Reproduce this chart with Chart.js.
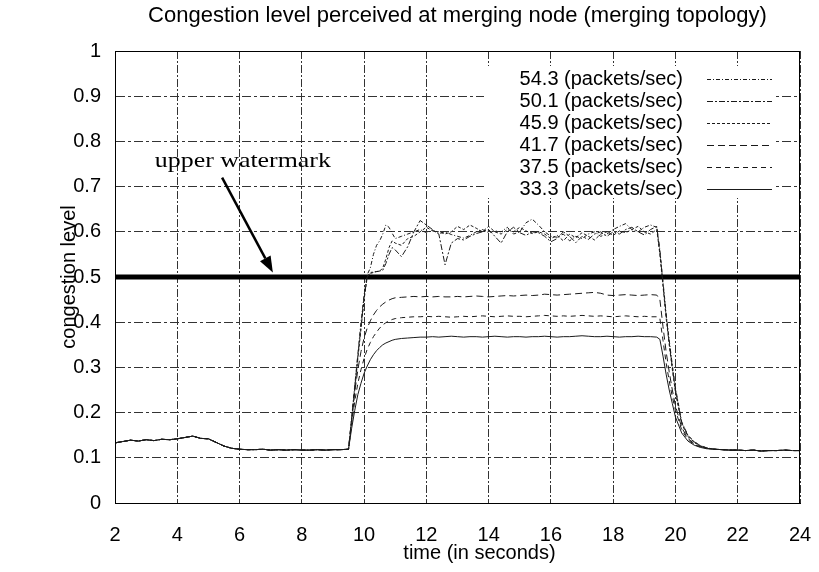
<!DOCTYPE html>
<html>
<head>
<meta charset="utf-8">
<script src="https://cdn.jsdelivr.net/npm/chart.js@4.4.1/dist/chart.umd.min.js"></script>
<style>
  html, body { margin: 0; padding: 0; background: #fff; }
  #wrap { width: 819px; height: 572px; }
</style>
</head>
<body>
<div id="wrap"><canvas id="chart" width="819" height="572"></canvas></div>
<script>
// ── Data ───────────────────────────────────────────────────
// idle period, identical for every rate
const BASE_T = [2, 2.25, 2.5, 2.75, 3, 3.25, 3.5, 3.75, 4, 4.25, 4.5, 4.75, 5, 5.25, 5.5, 5.75,
                6, 6.25, 6.5, 6.75, 7, 7.25, 7.5, 7.75, 8, 8.25, 8.5, 8.75, 9, 9.25, 9.5];
const BASE_V = [0.133, 0.136, 0.139, 0.137, 0.140, 0.138, 0.141, 0.140, 0.142, 0.145, 0.148, 0.143, 0.142, 0.134, 0.126, 0.121,
                0.119, 0.118, 0.118, 0.119, 0.117, 0.118, 0.117, 0.118, 0.117, 0.117, 0.118, 0.117, 0.118, 0.118, 0.119];

// active period (rise, plateau, fall)
const RUN_T = [
  9.6, 9.7, 9.8, 9.9, 10.0, 10.1, 10.2, 10.3, 10.4, 10.5, 10.6, 10.7, 10.8, 10.9,
  11.0, 11.2, 11.4, 11.6, 11.8, 12.0, 12.2, 12.4, 12.6, 12.8,
  13.0, 13.2, 13.4, 13.6, 13.8, 14.0, 14.2, 14.4, 14.6, 14.8,
  15.0, 15.2, 15.4, 15.6, 15.8, 16.0, 16.2, 16.4, 16.6, 16.8,
  17.0, 17.2, 17.4, 17.6, 17.8, 18.0, 18.2, 18.4, 18.6, 18.8,
  19.0, 19.2, 19.4,
  19.5, 19.6, 19.7, 19.8, 19.9, 20.0, 20.2, 20.4, 20.6, 20.8, 21.0
];

const R543 = [
  0.19, 0.26, 0.33, 0.40, 0.46, 0.505, 0.52, 0.55, 0.57, 0.58, 0.595, 0.615, 0.61, 0.597,
  0.585, 0.59, 0.595, 0.6, 0.605, 0.598, 0.603, 0.596, 0.6, 0.594,
  0.59, 0.586, 0.592, 0.6, 0.605, 0.598, 0.602, 0.6, 0.61, 0.595,
  0.6, 0.62, 0.628, 0.615, 0.6, 0.59, 0.588, 0.595, 0.58, 0.59,
  0.585, 0.595, 0.6, 0.59, 0.595, 0.605, 0.612, 0.618, 0.605, 0.6,
  0.61, 0.615, 0.61,
  0.56, 0.49, 0.42, 0.36, 0.305, 0.255, 0.18, 0.15, 0.136, 0.127, 0.122
];
const R501 = [
  0.185, 0.255, 0.325, 0.39, 0.455, 0.5, 0.51, 0.511, 0.512, 0.513, 0.515, 0.53, 0.55, 0.565,
  0.56, 0.545, 0.567, 0.6, 0.625, 0.615, 0.605, 0.595, 0.527, 0.575,
  0.585, 0.582, 0.59, 0.596, 0.6, 0.605, 0.59, 0.575, 0.6, 0.61,
  0.598, 0.592, 0.6, 0.598, 0.59, 0.578, 0.585, 0.6, 0.59, 0.576,
  0.59, 0.583, 0.595, 0.6, 0.59, 0.6, 0.595, 0.605, 0.61, 0.6,
  0.593, 0.605, 0.612,
  0.555, 0.485, 0.415, 0.355, 0.3, 0.25, 0.178, 0.149, 0.135, 0.127, 0.122
];
const R459 = [
  0.18, 0.25, 0.32, 0.385, 0.45, 0.5, 0.508, 0.51, 0.512, 0.513, 0.52, 0.54, 0.565, 0.58,
  0.575, 0.57, 0.585, 0.59, 0.6, 0.61, 0.602, 0.6, 0.595, 0.6,
  0.612, 0.605, 0.615, 0.608, 0.6, 0.612, 0.6, 0.595, 0.605, 0.6,
  0.61, 0.602, 0.596, 0.6, 0.595, 0.585, 0.592, 0.58, 0.595, 0.587,
  0.598, 0.59, 0.582, 0.595, 0.6, 0.592, 0.602, 0.598, 0.605, 0.612,
  0.6, 0.595, 0.605,
  0.55, 0.48, 0.41, 0.35, 0.295, 0.245, 0.175, 0.147, 0.134, 0.126, 0.121
];
const R417 = [
  0.185, 0.245, 0.295, 0.335, 0.365, 0.387, 0.403, 0.416, 0.426, 0.434, 0.44, 0.445, 0.449, 0.452,
  0.454, 0.455, 0.456, 0.457, 0.456, 0.457, 0.456, 0.457, 0.456, 0.456,
  0.457, 0.456, 0.457, 0.458, 0.457, 0.456, 0.457, 0.458, 0.459, 0.458,
  0.459, 0.46, 0.459, 0.46, 0.462, 0.461, 0.46, 0.461, 0.462, 0.463,
  0.464, 0.465, 0.466, 0.464, 0.46, 0.459, 0.46, 0.461, 0.46, 0.459,
  0.46, 0.461, 0.46,
  0.45, 0.39, 0.335, 0.29, 0.25, 0.215, 0.167, 0.143, 0.131, 0.125, 0.121
];
const R375 = [
  0.175, 0.225, 0.265, 0.295, 0.32, 0.34, 0.355, 0.368, 0.378, 0.387, 0.394, 0.399, 0.403, 0.406,
  0.408, 0.41, 0.411, 0.412, 0.412, 0.413, 0.412, 0.413, 0.412, 0.411,
  0.412, 0.413, 0.412, 0.413, 0.414, 0.413, 0.412, 0.413, 0.414, 0.413,
  0.413, 0.412, 0.413, 0.414, 0.415, 0.414, 0.413, 0.414, 0.413, 0.414,
  0.415, 0.414, 0.413, 0.414, 0.413, 0.412, 0.413, 0.414, 0.413, 0.412,
  0.413, 0.412, 0.412,
  0.408, 0.36, 0.31, 0.27, 0.235, 0.205, 0.162, 0.14, 0.129, 0.124, 0.121
];
const R333 = [
  0.165, 0.205, 0.24, 0.265, 0.287, 0.303, 0.317, 0.328, 0.337, 0.344, 0.35, 0.354, 0.357, 0.36,
  0.362, 0.364, 0.365, 0.366, 0.367, 0.367, 0.368, 0.367, 0.368, 0.369,
  0.368, 0.367, 0.368, 0.368, 0.367, 0.368, 0.369, 0.368, 0.367, 0.368,
  0.368, 0.367, 0.368, 0.368, 0.369, 0.368, 0.367, 0.368, 0.368, 0.369,
  0.37, 0.369, 0.368, 0.368, 0.369, 0.368, 0.367, 0.368, 0.368, 0.369,
  0.368, 0.368, 0.367,
  0.362, 0.325, 0.285, 0.25, 0.22, 0.19, 0.155, 0.137, 0.128, 0.123, 0.12
];

// settled again, identical for every rate
const TAIL_T = [21.25, 21.5, 21.75, 22, 22.25, 22.5, 22.75, 23, 23.25, 23.5, 23.75, 24];
const TAIL_V = [0.119, 0.118, 0.117, 0.117, 0.116, 0.117, 0.115, 0.116, 0.116, 0.117, 0.116, 0.116];

const LABELS = ['54.3 (packets/sec)', '50.1 (packets/sec)', '45.9 (packets/sec)',
                '41.7 (packets/sec)', '37.5 (packets/sec)', '33.3 (packets/sec)'];
const RUNS   = [R543, R501, R459, R417, R375, R333];
const DASHES = [[4, 2, 1, 2], [6, 2, 2, 2], [3, 2], [7, 4], [5, 4], []];

const WATERMARK = 0.5;
const X_RANGE = [2, 24];
// arrow annotation, in data units
const NOTE = { text: 'upper watermark', x: 3.28, y: 0.743, from: [5.44, 0.72], to: [7.07, 0.51] };

const FONT = '"Liberation Sans", Arial, sans-serif';

function points(run) {
  const pts = BASE_T.map((t, i) => ({ x: t, y: BASE_V[i] }));
  RUN_T.forEach((t, i) => pts.push({ x: t, y: run[i] }));
  TAIL_T.forEach((t, i) => pts.push({ x: t, y: TAIL_V[i] }));
  return pts;
}

const datasets = RUNS.map((run, i) => ({
  label: LABELS[i],
  data: points(run),
  borderColor: '#1a1a1a',
  borderWidth: 1,
  borderDash: DASHES[i],
  pointRadius: 0,
  tension: 0,
  inLegend: true
}));
datasets.push({
  label: 'watermark',
  data: X_RANGE.map(x => ({ x, y: WATERMARK })),
  borderColor: '#000',
  borderWidth: 5,
  pointRadius: 0
});

// ── Frame, titles, key and annotation ──────────────────────
const overlay = {
  id: 'overlay',
  beforeDatasetsDraw(chart) {
    // opaque key box hides the grid behind it
    const ctx = chart.ctx;
    ctx.save();
    ctx.fillStyle = '#fff';
    ctx.fillRect(484, 66, 292, 132);
    ctx.restore();
  },
  afterDraw(chart) {
    const { ctx, chartArea: a, scales: { x, y } } = chart;
    ctx.save();
    ctx.setLineDash([]);
    ctx.strokeStyle = '#000';
    ctx.lineWidth = 1;
    ctx.strokeRect(a.left + 0.5, a.top + 0.5, a.right - a.left - 1, a.bottom - a.top);

    ctx.fillStyle = '#000';
    ctx.font = `22px ${FONT}`;
    ctx.textAlign = 'center';
    ctx.textBaseline = 'middle';
    ctx.fillText('Congestion level perceived at merging node (merging topology)', (a.left + a.right) / 2, 16);
    ctx.font = `20px ${FONT}`;
    ctx.fillText('time (in seconds)', (a.left + a.right) / 2 + 22, 553);
    ctx.save();
    ctx.translate(69, (a.top + a.bottom) / 2);
    ctx.rotate(-Math.PI / 2);
    ctx.fillText('congestion level', 0, 0);
    ctx.restore();

    // key
    ctx.textAlign = 'right';
    chart.data.datasets.forEach((ds, i) => {
      if (!ds.inLegend) return;
      const ry = 79 + i * 22;
      ctx.fillText(ds.label, 683, ry);
      ctx.beginPath();
      ctx.setLineDash(ds.borderDash);
      ctx.lineWidth = ds.borderWidth;
      ctx.strokeStyle = ds.borderColor;
      ctx.moveTo(707, ry + 0.5);
      ctx.lineTo(772, ry + 0.5);
      ctx.stroke();
    });
    ctx.setLineDash([]);

    // "upper watermark" note with arrow
    ctx.font = `21px "Liberation Serif", "Times New Roman", serif`;
    ctx.textAlign = 'left';
    ctx.textBaseline = 'alphabetic';
    const tx = x.getPixelForValue(NOTE.x), ty = y.getPixelForValue(NOTE.y);
    const w = ctx.measureText(NOTE.text).width;
    ctx.save();
    ctx.translate(tx, ty);
    ctx.scale(176 / w, 1);
    ctx.fillText(NOTE.text, 0, 0);
    ctx.restore();

    const x1 = x.getPixelForValue(NOTE.from[0]), y1 = y.getPixelForValue(NOTE.from[1]);
    const x2 = x.getPixelForValue(NOTE.to[0]),   y2 = y.getPixelForValue(NOTE.to[1]);
    const ang = Math.atan2(y2 - y1, x2 - x1);
    const head = 16, half = 6;
    const bx = x2 - head * Math.cos(ang), by = y2 - head * Math.sin(ang);
    ctx.strokeStyle = '#000';
    ctx.lineWidth = 2.5;
    ctx.beginPath();
    ctx.moveTo(x1, y1);
    ctx.lineTo(bx, by);
    ctx.stroke();
    ctx.beginPath();
    ctx.moveTo(x2, y2);
    ctx.lineTo(bx + half * Math.sin(ang), by - half * Math.cos(ang));
    ctx.lineTo(bx - half * Math.sin(ang), by + half * Math.cos(ang));
    ctx.closePath();
    ctx.fill();
    ctx.restore();
  }
};

new Chart(document.getElementById('chart').getContext('2d'), {
  type: 'line',
  data: { datasets },
  options: {
    responsive: false,
    animation: false,
    layout: { padding: { top: 51, right: 19, left: 0, bottom: 0 } },
    plugins: { legend: { display: false }, tooltip: { enabled: false } },
    scales: {
      x: {
        type: 'linear',
        min: X_RANGE[0],
        max: X_RANGE[1],
        // fixed axis box; label overflow is kept inside the right margin
        afterFit: s => { s.height = 69; s.paddingLeft = 0; s.paddingRight = 0; },
        ticks: { stepSize: 2, color: '#000', padding: 20, font: { family: FONT, size: 20 } },
        grid: { color: '#333', lineWidth: 1, drawTicks: false },
        border: { display: true, color: '#000', width: 1, dash: [8, 2, 2, 2] }
      },
      y: {
        min: 0,
        max: 1,
        afterFit: s => { s.width = 115; },
        ticks: {
          stepSize: 0.1, color: '#000', padding: 14, font: { family: FONT, size: 20 },
          callback: v => String(Math.round(v * 10) / 10)
        },
        grid: { color: '#333', lineWidth: 1, drawTicks: false },
        border: { display: true, color: '#000', width: 1, dash: [9, 3, 3, 3] }
      }
    }
  },
  plugins: [overlay]
});
</script>
</body>
</html>
